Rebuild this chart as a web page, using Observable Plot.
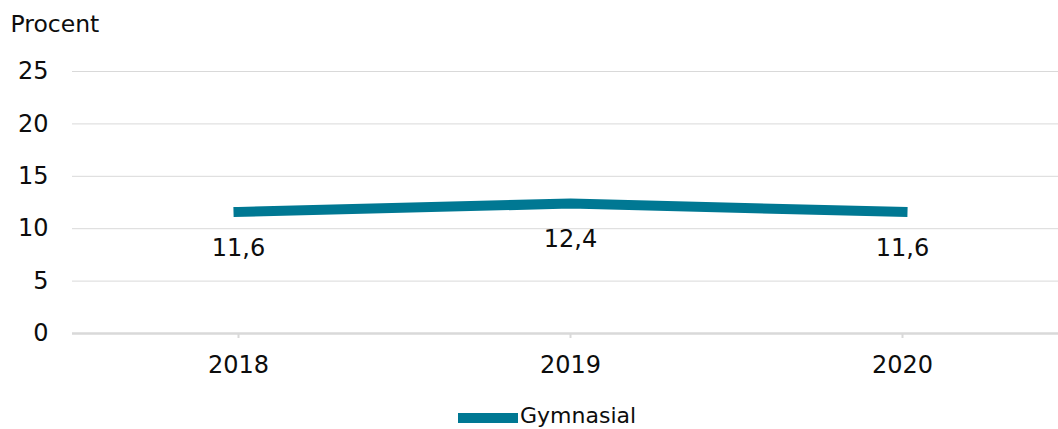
<!DOCTYPE html>
<html>
<head>
<meta charset="utf-8">
<script src="https://cdn.jsdelivr.net/npm/d3@7"></script>
<script src="https://cdn.jsdelivr.net/npm/@observablehq/plot@0.6"></script>
<style>
  html, body { margin: 0; padding: 0; background: #fff; }
  body { width: 1058px; height: 429px; overflow: hidden; font-family: "DejaVu Sans", Verdana, sans-serif; color: #0d0d0d; }
  #legend { position: relative; width: 1058px; height: 29px; overflow: hidden; font-size: 22px; }
  #legend .sw { position: absolute; left: 458px; top: 13px; width: 60px; height: 10px; }
  #legend .lb { position: absolute; left: 520px; top: 5px; line-height: 22px; height: 22px; white-space: nowrap; }
</style>
</head>
<body>
<div id="chart"></div>
<div id="legend"></div>
<script>
const years = ["2018", "2019", "2020"];
const values = [11.6, 12.4, 11.6];
const seriesName = "Gymnasial";
const yTicks = [0, 5, 10, 15, 20, 25];
const yLabel = "Procent";

const color = "#007893";
const ink = "#0d0d0d";
const data = years.map((y, i) => ({year: y, value: values[i]}));
const fmt = v => v.toFixed(1).replace(".", ",");

const chart = Plot.plot({
  width: 1058,
  height: 400,
  marginLeft: 72,
  marginRight: 0,
  marginTop: 71,
  marginBottom: 67,
  style: {fontFamily: "'DejaVu Sans', Verdana, sans-serif", fontSize: "24px", color: ink, background: "#fff", overflow: "visible"},
  x: {type: "point", domain: years, range: [72, 1068], label: null},
  y: {domain: [0, 25], ticks: yTicks, label: null},
  marks: [
    Plot.gridY(yTicks.filter(d => d > 0), {stroke: "#d9d9d9", strokeOpacity: 1, strokeWidth: 1}),
    Plot.ruleY([0], {stroke: "#d9d9d9", strokeWidth: 2.5}),
    Plot.axisY({ticks: yTicks, tickSize: 0, tickPadding: 24, fill: ink, label: null, fontSize: 24}),
    Plot.axisX({tickSize: 5, tickPadding: 17, stroke: "#d9d9d9", strokeWidth: 2, fill: ink, label: null, fontSize: 24}),
    Plot.line(data, {x: "year", y: "value", stroke: color, strokeWidth: 10, strokeLinecap: "square", strokeLinejoin: "miter"}),
    Plot.text(data, {x: "year", y: "value", text: d => fmt(d.value), dy: 36, fill: ink, fontSize: 24, lineAnchor: "middle"}),
    Plot.text([yLabel], {frameAnchor: "top-left", dx: -62, dy: -47, textAnchor: "start", lineAnchor: "middle", fill: ink, fontSize: 23.5})
  ]
});
document.getElementById("chart").appendChild(chart);

const leg = document.getElementById("legend");
const sw = document.createElement("div");
sw.className = "sw";
sw.style.background = color;
const lb = document.createElement("span");
lb.className = "lb";
lb.textContent = seriesName;
leg.appendChild(sw);
leg.appendChild(lb);
</script>
</body>
</html>
